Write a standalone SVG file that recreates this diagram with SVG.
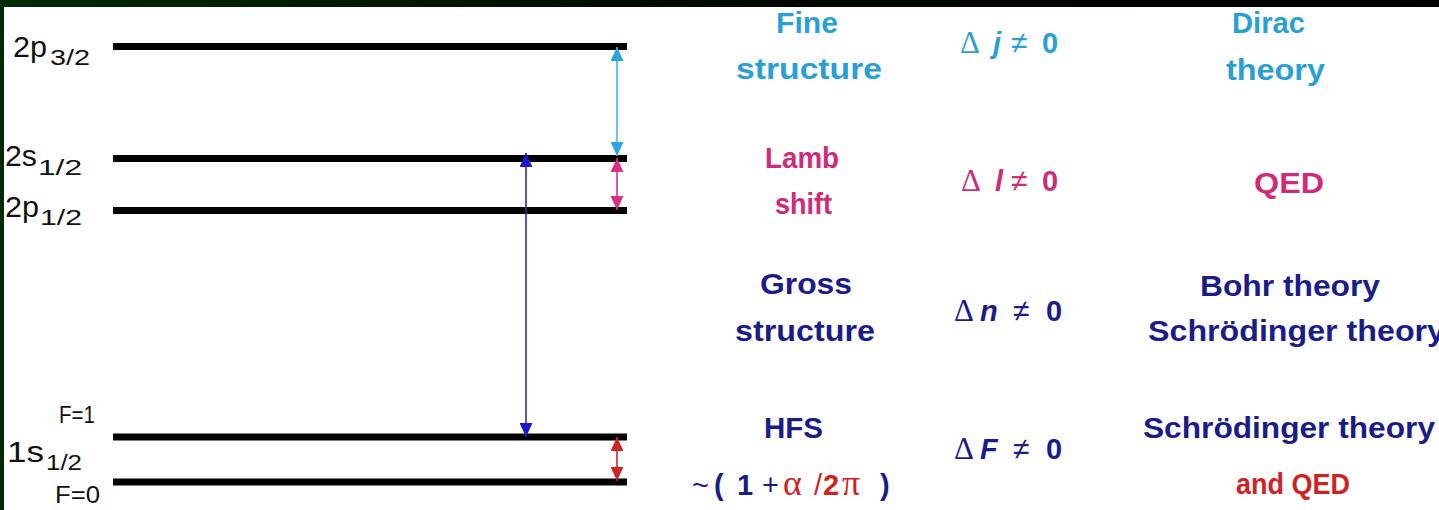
<svg xmlns="http://www.w3.org/2000/svg" width="1439" height="510" viewBox="0 0 1439 510">
  <defs>
    <linearGradient id="topband" x1="0" y1="0" x2="1" y2="0">
      <stop offset="0" stop-color="#012a04"/>
      <stop offset="0.5" stop-color="#000800"/>
      <stop offset="1" stop-color="#000000"/>
    </linearGradient>
    <marker id="ah-cyan" markerUnits="userSpaceOnUse" markerWidth="14" markerHeight="13" refX="14" refY="6.5" orient="auto-start-reverse">
      <path d="M0,0 L14,6.5 L0,13 Z" fill="#2ba4da"/>
    </marker>
    <marker id="ah-pink" markerUnits="userSpaceOnUse" markerWidth="14" markerHeight="13" refX="14" refY="6.5" orient="auto-start-reverse">
      <path d="M0,0 L14,6.5 L0,13 Z" fill="#d6307e"/>
    </marker>
    <marker id="ah-blue" markerUnits="userSpaceOnUse" markerWidth="14" markerHeight="13" refX="14" refY="6.5" orient="auto-start-reverse">
      <path d="M0,0 L14,6.5 L0,13 Z" fill="#1a1acc"/>
    </marker>
    <marker id="ah-red" markerUnits="userSpaceOnUse" markerWidth="14" markerHeight="13" refX="14" refY="6.5" orient="auto-start-reverse">
      <path d="M0,0 L14,6.5 L0,13 Z" fill="#cc2626"/>
    </marker>
  </defs>
  <style>
    .lvl { stroke: #000; stroke-width: 7; }
    .st { font-family: "Liberation Sans", Arial, sans-serif; font-size: 29px; fill: #111; }
    .sub { font-size: 22px; }
    .fl { font-family: "Liberation Sans", Arial, sans-serif; font-size: 24px; fill: #111; }
    .t { font-family: "Liberation Sans", Arial, sans-serif; font-weight: bold; font-size: 29px; }
    .sym { font-family: "Liberation Serif", "Times New Roman", serif; font-weight: normal; font-size: 31px; }
    .gk { font-family: "Liberation Serif", "Times New Roman", serif; font-weight: normal; font-size: 36px; }
    .nrm { font-weight: normal; }
    .ne { font-weight: normal; font-size: 30px; }
    .it { font-style: italic; }
    .cy { fill: #2a9fd2; }
    .mg { fill: #cc2c78; }
    .nv { fill: #1c1c88; }
    .rd { fill: #cc2424; }
    .conn { fill: none; stroke-width: 1.6; }
  </style>

  <rect x="0" y="0" width="1439" height="510" fill="#ffffff"/>
  <rect x="0" y="0" width="1439" height="7" fill="url(#topband)"/>
  <rect x="0" y="0" width="4" height="510" fill="#002a04"/>

  <g id="level-2p32">
    <line class="lvl" x1="113" y1="46.5" x2="627" y2="46.5"/>
    <text class="st" x="13" y="57" textLength="34" lengthAdjust="spacingAndGlyphs">2p</text>
    <text class="st sub" x="50" y="65" textLength="40" lengthAdjust="spacingAndGlyphs">3/2</text>
  </g>
  <g id="level-2s12">
    <line class="lvl" x1="113" y1="158.5" x2="627" y2="158.5"/>
    <text class="st" x="5" y="166" textLength="32" lengthAdjust="spacingAndGlyphs">2s</text>
    <text class="st sub" x="38" y="175" textLength="44" lengthAdjust="spacingAndGlyphs">1/2</text>
  </g>
  <g id="level-2p12">
    <line class="lvl" x1="113" y1="210.5" x2="627" y2="210.5"/>
    <text class="st" x="5" y="217" textLength="34" lengthAdjust="spacingAndGlyphs">2p</text>
    <text class="st sub" x="40" y="225" textLength="42" lengthAdjust="spacingAndGlyphs">1/2</text>
  </g>
  <g id="level-1s12-F1">
    <line class="lvl" x1="113" y1="437" x2="627" y2="437"/>
    <text class="fl" x="59" y="423" textLength="36" lengthAdjust="spacingAndGlyphs">F=1</text>
  </g>
  <g id="level-1s12-F0">
    <line class="lvl" x1="113" y1="482" x2="627" y2="482"/>
    <text class="fl" x="55" y="503" textLength="45" lengthAdjust="spacingAndGlyphs">F=0</text>
  </g>
  <g id="label-1s12">
    <text class="st" x="7" y="462" textLength="37" lengthAdjust="spacingAndGlyphs">1s</text>
    <text class="st sub" x="46" y="470" textLength="36" lengthAdjust="spacingAndGlyphs">1/2</text>
  </g>

  <g id="connectors">
    <line class="conn" x1="617" y1="47" x2="617" y2="156" stroke="#4cb2e2" marker-start="url(#ah-cyan)" marker-end="url(#ah-cyan)"/>
    <line class="conn" x1="617" y1="158" x2="617" y2="210" stroke="#d6307e" marker-start="url(#ah-pink)" marker-end="url(#ah-pink)"/>
    <line class="conn" x1="526" y1="153" x2="526" y2="437" stroke="#2c2c99" marker-start="url(#ah-blue)" marker-end="url(#ah-blue)"/>
    <line class="conn" x1="617" y1="437" x2="617" y2="481" stroke="#cc2626" marker-start="url(#ah-red)" marker-end="url(#ah-red)"/>
  </g>

  <g id="row-fine">
    <text class="t cy" x="776" y="33" textLength="62" lengthAdjust="spacingAndGlyphs">Fine</text>
    <text class="t cy" x="736" y="79" textLength="146" lengthAdjust="spacingAndGlyphs">structure</text>
    <text class="t cy" y="53"><tspan class="sym" x="960">Δ</tspan><tspan class="it" x="993">j</tspan><tspan class="ne" x="1011">≠</tspan><tspan x="1042">0</tspan></text>
    <text class="t cy" x="1232" y="33" textLength="73" lengthAdjust="spacingAndGlyphs">Dirac</text>
    <text class="t cy" x="1226" y="80" textLength="99" lengthAdjust="spacingAndGlyphs">theory</text>
  </g>
  <g id="row-lamb">
    <text class="t mg" x="765" y="168" textLength="74" lengthAdjust="spacingAndGlyphs">Lamb</text>
    <text class="t mg" x="775" y="214" textLength="57" lengthAdjust="spacingAndGlyphs">shift</text>
    <text class="t mg" y="191"><tspan class="sym" x="961">Δ</tspan><tspan class="it" x="995">l</tspan><tspan class="ne" x="1011">≠</tspan><tspan x="1042">0</tspan></text>
    <text class="t mg" x="1254" y="193" textLength="70" lengthAdjust="spacingAndGlyphs">QED</text>
  </g>
  <g id="row-gross">
    <text class="t nv" x="760" y="294" textLength="92" lengthAdjust="spacingAndGlyphs">Gross</text>
    <text class="t nv" x="735" y="341" textLength="140" lengthAdjust="spacingAndGlyphs">structure</text>
    <text class="t nv" y="321"><tspan class="sym" x="954">Δ</tspan><tspan class="it" x="980">n</tspan><tspan class="ne" x="1013">≠</tspan><tspan x="1046">0</tspan></text>
    <text class="t nv" x="1200" y="296" textLength="180" lengthAdjust="spacingAndGlyphs">Bohr theory</text>
    <text class="t nv" x="1148" y="341" textLength="297" lengthAdjust="spacingAndGlyphs">Schrödinger theory</text>
  </g>
  <g id="row-hfs">
    <text class="t nv" x="764" y="438" textLength="59" lengthAdjust="spacingAndGlyphs">HFS</text>
    <text class="t nv" y="495"><tspan class="nrm" x="692">~</tspan><tspan x="714">(</tspan><tspan x="737">1</tspan><tspan class="nrm" x="762">+</tspan><tspan class="gk rd" x="783">α</tspan><tspan class="nrm rd" x="814">/</tspan><tspan class="rd" x="823">2</tspan><tspan class="gk rd" x="842">π</tspan><tspan x="880">)</tspan></text>
    <text class="t nv" y="459"><tspan class="sym" x="954">Δ</tspan><tspan class="it" x="980">F</tspan><tspan class="ne" x="1013">≠</tspan><tspan x="1046">0</tspan></text>
    <text class="t nv" x="1143" y="438" textLength="292" lengthAdjust="spacingAndGlyphs">Schrödinger theory</text>
    <text class="t rd" x="1236" y="494" textLength="114" lengthAdjust="spacingAndGlyphs">and QED</text>
  </g>
</svg>
